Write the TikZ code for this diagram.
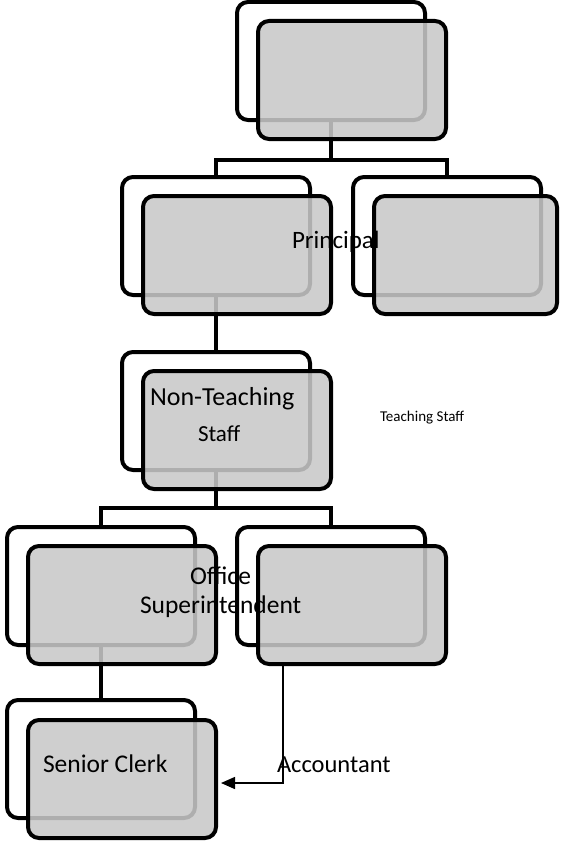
\documentclass[tikz,border=0pt]{standalone}
\usepackage{fontspec}
\setmainfont{Carlito}
\usetikzlibrary{arrows.meta}
\definecolor{boxgray}{RGB}{200,200,200}
\tikzset{
  backbox/.style={draw=black, line width=4pt, fill=white, rounded corners=11pt,
    minimum width=188pt, minimum height=118pt, inner sep=0pt, outer sep=0pt, anchor=north west},
  frontbox/.style={draw=black, line width=4pt, fill=boxgray, fill opacity=0.87, draw opacity=1,
    rounded corners=11pt, minimum width=188pt, minimum height=118pt, inner sep=0pt, outer sep=0pt, anchor=north west},
  conn/.style={draw=black, line width=4pt},
  arrowline/.style={draw=black, line width=1.5pt, -{Triangle[length=14pt,width=12pt]}},
  lbl/.style={inner sep=0pt, outer sep=0pt, anchor=base west, font=\fontsize{25.5}{30}\selectfont},
  lblsmall/.style={inner sep=0pt, outer sep=0pt, anchor=base west, font=\fontsize{15}{18}\selectfont}
}
\begin{document}
\begin{tikzpicture}[x=1pt, y=-1pt]
\useasboundingbox (0,0) rectangle (561,843);
% named coordinates
\coordinate (bar1) at (331,160);
\coordinate (bar2) at (101,508);
\coordinate (acc) at (283,783);
\coordinate (tipc) at (221,783);
% back box frames (for connector anchors)
\path (237,2) node[backbox, draw=none, fill=none] (b0) {};
\path (122,177) node[backbox, draw=none, fill=none] (b1) {};
\path (353,177) node[backbox, draw=none, fill=none] (b2) {};
\path (122,352) node[backbox, draw=none, fill=none] (b3) {};
\path (7,527) node[backbox, draw=none, fill=none] (b4) {};
\path (237,527) node[backbox, draw=none, fill=none] (b5) {};
\path (7,700) node[backbox, draw=none, fill=none] (b6) {};
% connectors
\draw[conn] (b0.south) -- (bar1);
\draw[conn] (b1.north) -- (b1.north |- bar1) -- (b2.north |- bar1) -- (b2.north);
\draw[conn] (b1.south) -- (b3.north);
\draw[conn] (b3.south) -- (b3.south |- bar2);
\draw[conn] (b4.north) -- (b4.north |- bar2) -- (b5.north |- bar2) -- (b5.north);
\draw[conn] (b4.south) -- (b6.north);
% boxes
\node[backbox] (k0) at (237,2) {};
\node[frontbox] (f0) at (258,21) {};
\node[backbox] (k1) at (122,177) {};
\node[frontbox] (f1) at (143,196) {};
\node[backbox] (k2) at (353,177) {};
\node[frontbox, minimum width=183pt] (f2) at (374,196) {};
\node[backbox] (k3) at (122,352) {};
\node[frontbox] (f3) at (143,371) {};
\node[backbox] (k4) at (7,527) {};
\node[frontbox] (f4) at (28,546) {};
\node[backbox] (k5) at (237,527) {};
\node[frontbox] (f5) at (258,546) {};
\node[backbox] (k6) at (7,700) {};
\node[frontbox] (f6) at (28,720) {};
% labels
\node[lbl, font=\fontsize{25}{30}\selectfont] (tprin) at (292,248) {Principal};
\node[lbl, font=\fontsize{26}{30}\selectfont] (tnon) at (150,405) {Non-Teaching};
\node[lbl, font=\fontsize{23}{27}\selectfont] (tstaff) at (198,441) {Staff};
\node[lblsmall] (tteach) at (380,421) {Teaching Staff};
\node[lbl] (toff) at (190,584) {Office};
\node[lbl] (tsup) at (140,613) {Superintendent};
\node[lbl] (tsen) at (43,772) {Senior Clerk};
\node[lbl, font=\fontsize{24.5}{30}\selectfont] (tacc) at (277,772) {Accountant};
% arrow
\draw[arrowline] (acc |- f5.south) -- (acc) -- (tipc);
\end{tikzpicture}
\end{document}
